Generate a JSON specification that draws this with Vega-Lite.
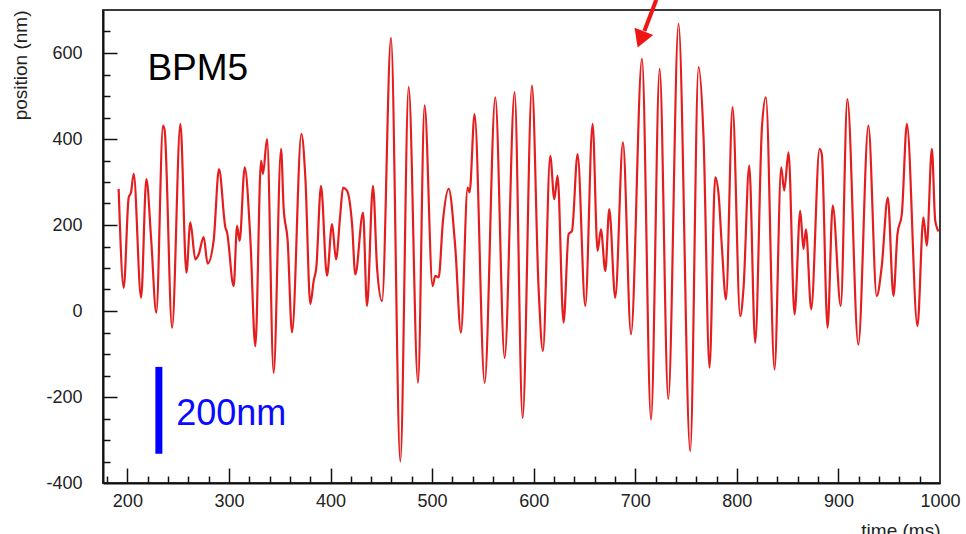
{
  "$schema": "https://vega.github.io/schema/vega-lite/v6.json",
  "width": 837,
  "height": 473,
  "autosize": {"type": "none"},
  "padding": {"left": 103, "top": 10, "right": 26, "bottom": 51},
  "background": "white",
  "config": {
    "view": {"stroke": "#3a3a3a", "strokeWidth": 2},
    "font": "Liberation Sans"
  },
  "resolve": {"axis": {"x": "independent", "y": "independent"}},
  "layer": [
    {
      "data": {
        "values": [
          {"time": 191.4, "position": 284}, {"time": 196.4, "position": 54}, {"time": 201.3, "position": 264},
          {"time": 203.6, "position": 276}, {"time": 206.2, "position": 319}, {"time": 213.5, "position": 31},
          {"time": 218.7, "position": 307}, {"time": 223.3, "position": 171}, {"time": 228.5, "position": -4},
          {"time": 235.1, "position": 431}, {"time": 236.7, "position": 420}, {"time": 244, "position": -39},
          {"time": 252.2, "position": 435}, {"time": 258.1, "position": 89}, {"time": 262, "position": 206},
          {"time": 266.9, "position": 120}, {"time": 270.2, "position": 132}, {"time": 275.1, "position": 172},
          {"time": 279, "position": 110}, {"time": 284.9, "position": 163}, {"time": 290.2, "position": 330},
          {"time": 296.5, "position": 194}, {"time": 298.1, "position": 183}, {"time": 304.6, "position": 58},
          {"time": 308, "position": 198}, {"time": 310.5, "position": 163}, {"time": 315.5, "position": 334},
          {"time": 321, "position": 171}, {"time": 326, "position": -82}, {"time": 331.6, "position": 350},
          {"time": 333.5, "position": 319}, {"time": 337.5, "position": 400}, {"time": 344, "position": -144},
          {"time": 351.3, "position": 377}, {"time": 353.8, "position": 241}, {"time": 357.8, "position": 163},
          {"time": 362.1, "position": -50}, {"time": 371.3, "position": 412}, {"time": 375.2, "position": 311},
          {"time": 380.1, "position": 16}, {"time": 383.4, "position": 70}, {"time": 386, "position": 101},
          {"time": 390.6, "position": 291}, {"time": 396.5, "position": 82}, {"time": 401.5, "position": 202},
          {"time": 405.4, "position": 120}, {"time": 409.6, "position": 225}, {"time": 412.3, "position": 287},
          {"time": 416.2, "position": 280}, {"time": 421.2, "position": 202}, {"time": 424.4, "position": 85},
          {"time": 432, "position": 229}, {"time": 435.9, "position": 12}, {"time": 441.8, "position": 291},
          {"time": 445.8, "position": 101}, {"time": 450.7, "position": 23}, {"time": 459.5, "position": 635},
          {"time": 468.7, "position": -350}, {"time": 476.9, "position": 521}, {"time": 486.1, "position": -167},
          {"time": 492.6, "position": 478}, {"time": 500.5, "position": 58}, {"time": 503.1, "position": 82},
          {"time": 506.4, "position": 78}, {"time": 510.7, "position": 210}, {"time": 516.3, "position": 284},
          {"time": 522.8, "position": 148}, {"time": 528.4, "position": -50}, {"time": 535, "position": 287},
          {"time": 536.9, "position": 276}, {"time": 541.8, "position": 458}, {"time": 551.7, "position": -167},
          {"time": 562.2, "position": 497}, {"time": 571.4, "position": -109}, {"time": 581.2, "position": 509},
          {"time": 589.1, "position": -249}, {"time": 598.3, "position": 524}, {"time": 604.8, "position": 54},
          {"time": 609.1, "position": -93}, {"time": 616.3, "position": 361}, {"time": 620.3, "position": 260},
          {"time": 623.5, "position": 315}, {"time": 629.4, "position": -27}, {"time": 634.4, "position": 179},
          {"time": 637.7, "position": 186}, {"time": 643.2, "position": 365}, {"time": 650.8, "position": 12},
          {"time": 658, "position": 435}, {"time": 662.9, "position": 140}, {"time": 666.2, "position": 190},
          {"time": 670.5, "position": 93}, {"time": 674.4, "position": 237}, {"time": 680.3, "position": 31},
          {"time": 687.9, "position": 392}, {"time": 695.8, "position": -54}, {"time": 706.6, "position": 587},
          {"time": 715.5, "position": -253}, {"time": 724, "position": 563}, {"time": 732.5, "position": -205},
          {"time": 742.6, "position": 668}, {"time": 754.1, "position": -326}, {"time": 762.3, "position": 567},
          {"time": 767.2, "position": 404}, {"time": 773.1, "position": -132}, {"time": 778.7, "position": 311},
          {"time": 782, "position": 272}, {"time": 785.3, "position": 148}, {"time": 789.3, "position": 27},
          {"time": 795.8, "position": 474}, {"time": 803.3, "position": -12}, {"time": 806.6, "position": 54},
          {"time": 812.2, "position": 338}, {"time": 818.1, "position": -74}, {"time": 824.7, "position": 427},
          {"time": 828.6, "position": 497}, {"time": 837.1, "position": -136}, {"time": 843.7, "position": 334},
          {"time": 846.6, "position": 280}, {"time": 850.9, "position": 369}, {"time": 856.8, "position": -8},
          {"time": 862.4, "position": 233}, {"time": 865.6, "position": 144}, {"time": 868, "position": 190},
          {"time": 873.2, "position": 4}, {"time": 881.4, "position": 377}, {"time": 883.6, "position": 365},
          {"time": 889.3, "position": -39}, {"time": 894.4, "position": 245}, {"time": 902.3, "position": 12},
          {"time": 908.8, "position": 493}, {"time": 919.6, "position": -78}, {"time": 929.5, "position": 431},
          {"time": 937.7, "position": 35}, {"time": 942.7, "position": 105}, {"time": 948.6, "position": 264},
          {"time": 954.2, "position": 35}, {"time": 958.1, "position": 179}, {"time": 962.4, "position": 225},
          {"time": 967.4, "position": 435}, {"time": 977.8, "position": -35}, {"time": 983.7, "position": 218},
          {"time": 987, "position": 152}, {"time": 992, "position": 377}, {"time": 995.3, "position": 210},
          {"time": 998.6, "position": 185}
        ]
      },
      "mark": {"type": "line", "color": "#e41e1e", "strokeWidth": 2.2, "interpolate": "monotone"},
      "encoding": {
        "x": {
          "field": "time",
          "type": "quantitative",
          "scale": {"domain": [176, 1000], "nice": false, "zero": false},
          "axis": {
            "orient": "bottom",
            "values": [200, 300, 400, 500, 600, 700, 800, 900, 1000],
            "labelExpr": "'' + datum.value",
            "labelFontSize": 18,
            "labelColor": "#222222",
            "labelPadding": 9,
            "labelFlush": false,
            "labelOverlap": false,
            "ticks": false,
            "tickSize": 0,
            "domainColor": "#111111",
            "domainWidth": 2,
            "grid": false,
            "title": "time (ms)",
            "titleFontSize": 19,
            "titleFontWeight": "normal",
            "titleColor": "#222222",
            "titleAlign": "right",
            "titleAnchor": "end",
            "titleBaseline": "alphabetic",
            "titleX": 837,
            "titleY": 53
          }
        },
        "y": {
          "field": "position",
          "type": "quantitative",
          "scale": {"domain": [-400, 700], "nice": false, "zero": false},
          "axis": {
            "orient": "left",
            "values": [-400, -200, 0, 200, 400, 600],
            "labelExpr": "'' + datum.value",
            "labelFontSize": 18,
            "labelColor": "#222222",
            "labelPadding": 21,
            "labelFlush": false,
            "labelOverlap": false,
            "ticks": false,
            "tickSize": 0,
            "domainColor": "#111111",
            "domainWidth": 2,
            "grid": false,
            "title": "position (nm)",
            "titleFontSize": 19,
            "titleFontWeight": "normal",
            "titleColor": "#222222",
            "titleAngle": -90,
            "titleAlign": "right",
            "titleBaseline": "middle",
            "titleAnchor": "end",
            "titleX": -83,
            "titleY": 0
          }
        }
      }
    },
    {
      "data": {"values": [{"label": "BPM5"}]},
      "mark": {"type": "text", "fontSize": 37, "align": "left", "baseline": "alphabetic", "color": "#000000", "font": "Liberation Sans"},
      "encoding": {
        "text": {"field": "label"},
        "x": {
          "datum": 219.7,
          "type": "quantitative",
          "axis": {
            "orient": "bottom",
            "values": [200, 300, 400, 500, 600, 700, 800, 900],
            "labels": false,
            "domain": false,
            "grid": false,
            "title": null,
            "offset": -15,
            "tickSize": 15,
            "tickColor": "#111111",
            "tickWidth": 1.5
          }
        },
        "y": {
          "datum": 537,
          "type": "quantitative",
          "axis": {
            "orient": "left",
            "values": [-200, 0, 200, 400, 600],
            "labels": false,
            "domain": false,
            "grid": false,
            "title": null,
            "offset": -14,
            "tickSize": 14,
            "tickColor": "#111111",
            "tickWidth": 1.5
          }
        }
      }
    },
    {
      "data": {"values": [{"label": "200nm"}]},
      "mark": {"type": "text", "fontSize": 36, "align": "left", "baseline": "alphabetic", "color": "#0a0aff", "font": "Liberation Sans"},
      "encoding": {
        "text": {"field": "label"},
        "x": {
          "datum": 248,
          "type": "quantitative",
          "axis": {
            "orient": "bottom",
            "values": [180, 220, 240, 260, 280, 320, 340, 360, 380, 420, 440, 460, 480, 520, 540, 560, 580, 620, 640, 660, 680, 720, 740, 760, 780, 820, 840, 860, 880, 920, 940, 960, 980],
            "labels": false,
            "domain": false,
            "grid": false,
            "title": null,
            "offset": -7,
            "tickSize": 7,
            "tickColor": "#111111",
            "tickWidth": 1.5
          }
        },
        "y": {
          "datum": -265,
          "type": "quantitative",
          "axis": {
            "orient": "left",
            "values": [-350, -300, -250, -150, -100, -50, 50, 100, 150, 250, 300, 350, 450, 500, 550, 650],
            "labels": false,
            "domain": false,
            "grid": false,
            "title": null,
            "offset": -7,
            "tickSize": 7,
            "tickColor": "#111111",
            "tickWidth": 1.5
          }
        }
      }
    },
    {
      "data": {"values": [{"label": "bar"}]},
      "mark": {"type": "rule", "color": "#0000ff", "strokeWidth": 7},
      "encoding": {
        "x": {"datum": 231, "type": "quantitative", "axis": null},
        "y": {"datum": -130, "type": "quantitative", "axis": null},
        "y2": {"datum": -332}
      }
    },
    {
      "data": {"values": [{"label": "arrow"}]},
      "mark": {"type": "rule", "color": "#f01414", "strokeWidth": 4, "clip": false},
      "encoding": {
        "x": {"datum": 720.7, "type": "quantitative", "axis": null},
        "y": {"datum": 724, "type": "quantitative", "axis": null},
        "x2": {"datum": 709},
        "y2": {"datum": 651}
      }
    },
    {
      "data": {"values": [{"label": "arrow"}]},
      "mark": {"type": "point", "shape": "triangle-down", "filled": true, "color": "#f01414", "size": 400, "angle": 21, "opacity": 1, "clip": false},
      "encoding": {
        "x": {"datum": 705.4, "type": "quantitative", "axis": null},
        "y": {"datum": 631.5, "type": "quantitative", "axis": null}
      }
    }
  ]
}
